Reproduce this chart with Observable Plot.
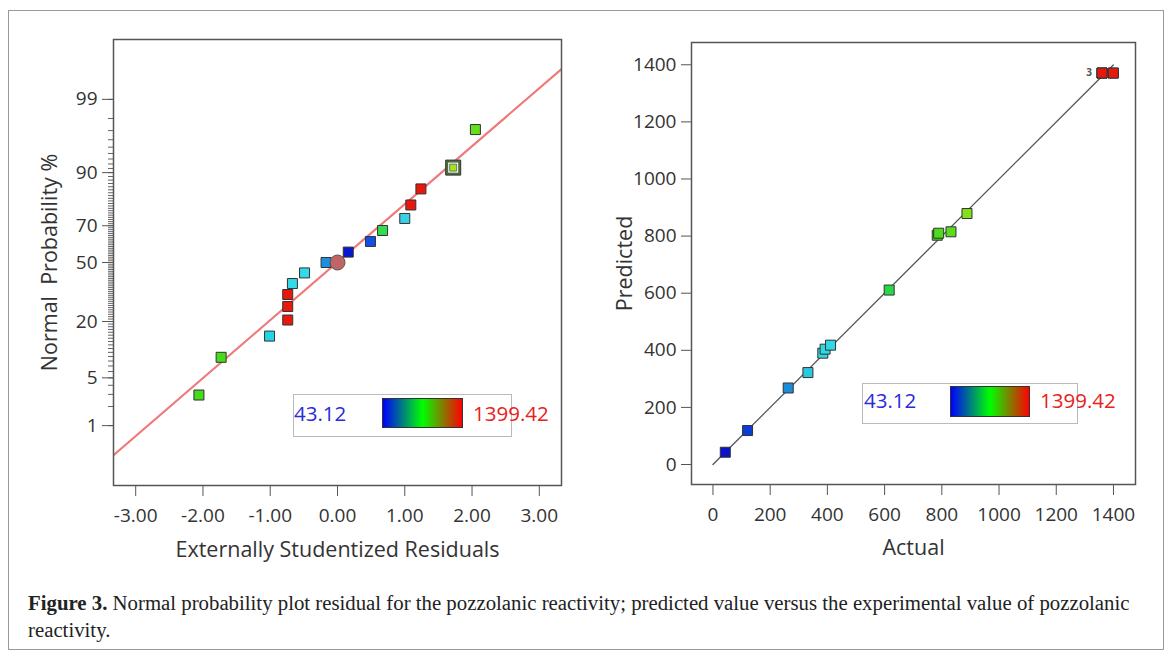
<!DOCTYPE html>
<html>
<head>
<meta charset="utf-8">
<script src="https://cdn.jsdelivr.net/npm/d3@7"></script>
<script src="https://cdn.jsdelivr.net/npm/@observablehq/plot@0.6"></script>
<style>
  body { margin: 0; background: #fff; }
  #fig { position: relative; width: 1172px; height: 657px; background: #fff; overflow: hidden; }
  .abs { position: absolute; }
  .lgbox { position: absolute; border: 1px solid #bbb; box-sizing: border-box; background: #fff; }
  .lgbar { position: absolute; border: 1px solid #333; box-sizing: border-box;
           background: linear-gradient(to right, #0000ff, #00ff00, #ff0000); }
  .lgtxt { position: absolute; font-family: 'Open Sans', sans-serif; font-size: 20.5px; white-space: nowrap; }
  #caption { position: absolute; left: 28px; top: 589px; font-family: 'Liberation Serif', serif;
             font-size: 20.8px; line-height: 27px; color: #222; white-space: nowrap; }
</style>
</head>
<body>
<div id="fig">
  <div class="abs" style="left:8px;top:10px;width:1156px;height:640px;border:1.5px solid #999;box-sizing:border-box;"></div>
  <div id="left" class="abs" style="left:0;top:0;"></div>
  <div id="right" class="abs" style="left:580px;top:0;"></div>

  <div class="lgbox" style="left:293px;top:394px;width:219px;height:43px;"></div>
  <div class="lgbar" style="left:382px;top:398px;width:81px;height:30px;"></div>
  <div class="lgtxt" id="lminL" style="left:294px;top:392px;height:43px;line-height:43px;color:#2a2ad8;"></div>
  <div class="lgtxt" id="lmaxL" style="left:473px;top:392px;height:43px;line-height:43px;color:#e82020;"></div>

  <div class="lgbox" style="left:862px;top:383px;width:216px;height:41px;"></div>
  <div class="lgbar" style="left:950px;top:386px;width:80px;height:31px;"></div>
  <div class="lgtxt" id="lminR" style="left:864px;top:380px;height:41px;line-height:41px;color:#2a2ad8;"></div>
  <div class="lgtxt" id="lmaxR" style="left:1040px;top:380px;height:41px;line-height:41px;color:#e82020;"></div>

  <div id="caption"><b>Figure 3.</b> Normal probability plot residual for the pozzolanic reactivity; predicted value versus the experimental value of pozzolanic<br>reactivity.</div>
</div>
<script>
// ---------- data: left panel (normal probability plot) ----------
const residuals = [-2.06, -1.73, -1.01, -0.74, -0.74, -0.74, -0.67, -0.49, -0.17, 0.16, 0.49, 0.67, 1.00, 1.09, 1.24, 1.72, 2.05];
const normalProb = [2.94, 8.82, 14.7, 20.6, 26.5, 32.4, 38.2, 44.1, 50.0, 55.9, 61.8, 67.6, 73.5, 79.4, 85.3, 91.2, 97.1];
const residualColors = ["#44dc1c", "#44dc1c", "#22d4e6", "#e8180c", "#e8180c", "#e8180c", "#33dae8", "#33dae8",
  "#1e8ee0", "#0818d0", "#1050e6", "#30dc50", "#3ad0e6", "#e8180c", "#e8180c", "#a0e620", "#64e01c"];
const highlightIndex = 15;
const centerResidual = [0];
const centerProb = [50];
const fitResidual = [-3.33, 3.33];
const fitProb = [0.30, 99.71];
const xTicksLeft = [-3, -2, -1, 0, 1, 2, 3];
const probTickLabels = [1, 5, 20, 50, 70, 90, 99];
const minorProbTicks = d3.range(1, 100);

// ---------- data: right panel (predicted vs actual) ----------
const actual = [43.12, 121, 263, 332, 384, 392, 411, 616, 784, 789, 832, 888, 1360, 1360, 1360, 1399.42, 1399.42];
const predicted = [43, 119, 268, 322, 390, 404, 418, 611, 803, 810, 815, 879, 1371, 1371, 1371, 1371, 1371];
const actualColors = ["#0a14c8", "#0c3cd8", "#1a8cd8", "#2ac8e0", "#30d8e6", "#30d8e6", "#30d8e6", "#28d848",
  "#4cdc1c", "#4cdc1c", "#58dc1c", "#84e01c", "#e8180c", "#e8180c", "#e8180c", "#e8180c", "#e8180c"];
const overlapLabel = {x: 1360, y: 1371, text: "3"};
const diagActual = [0, 1399.42];
const diagPredicted = [0, 1399.42];
const axisTicksRight = [0, 200, 400, 600, 800, 1000, 1200, 1400];

// legend
const legendMin = "43.12";
const legendMax = "1399.42";

// ---------- helpers ----------
function probit(p) {
  const a = [-3.969683028665376e+01, 2.209460984245205e+02, -2.759285104469687e+02, 1.383577518672690e+02, -3.066479806614716e+01, 2.506628277459239e+00];
  const b = [-5.447609879822406e+01, 1.615858368580409e+02, -1.556989798598866e+02, 6.680131188771972e+01, -1.328068155288572e+01];
  const c = [-7.784894002430293e-03, -3.223964580411365e-01, -2.400758277161838e+00, -2.549671010228898e+00, 4.374664141464968e+00, 2.938163982698783e+00];
  const d = [7.784695709041462e-03, 3.224671290700398e-01, 2.445134137142996e+00, 3.754408661907416e+00];
  const pl = 0.02425, ph = 1 - pl;
  let q, r;
  if (p < pl) {
    q = Math.sqrt(-2 * Math.log(p));
    return (((((c[0]*q+c[1])*q+c[2])*q+c[3])*q+c[4])*q+c[5]) / ((((d[0]*q+d[1])*q+d[2])*q+d[3])*q+1);
  }
  if (p <= ph) {
    q = p - 0.5; r = q * q;
    return (((((a[0]*r+a[1])*r+a[2])*r+a[3])*r+a[4])*r+a[5])*q / (((((b[0]*r+b[1])*r+b[2])*r+b[3])*r+b[4])*r+1);
  }
  q = Math.sqrt(-2 * Math.log(1 - p));
  return -(((((c[0]*q+c[1])*q+c[2])*q+c[3])*q+c[4])*q+c[5]) / ((((d[0]*q+d[1])*q+d[2])*q+d[3])*q+1);
}
const pz = p => probit(p / 100);
const SQ = s => s / Math.sqrt(Math.PI); // square side -> dot r

const leftPts = residuals.map((r, i) => ({r, p: normalProb[i], c: residualColors[i]}));
const fitLine = fitResidual.map((r, i) => ({r, p: fitProb[i]}));
const centerPt = centerResidual.map((r, i) => ({r, p: centerProb[i]}));
const hl = [leftPts[highlightIndex]];
const majorZ = probTickLabels.map(pz);
const minorZ = minorProbTicks.map(pz);

const font = {fontFamily: "'Open Sans', sans-serif", fontSize: "19px", color: "#333", background: "transparent", overflow: "visible"};
const titleOpts = {text: d => d, fontSize: 21.5, fill: "#333", textAnchor: "middle", lineAnchor: "middle"};

const left = Plot.plot({
  width: 580, height: 570,
  marginLeft: 113, marginRight: 19, marginTop: 39, marginBottom: 85,
  x: {domain: [-3.33, 3.33]},
  y: {domain: [-3.18, 3.18]},
  color: {type: "identity"},
  style: font,
  marks: [
    Plot.line(fitLine, {x: "r", y: d => pz(d.p), stroke: "#f07a7a", strokeWidth: 2.2, clip: true}),
    Plot.axisX({ticks: xTicksLeft, tickSize: 11, tickPadding: 12, tickFormat: d => d.toFixed(2), label: null, stroke: "#555"}),
    Plot.axisY({ticks: minorZ, tickSize: 5, tickFormat: () => "", label: null, stroke: "#666"}),
    Plot.axisY({ticks: majorZ, tickSize: 11, tickPadding: 5, tickFormat: z => String(probTickLabels[majorZ.indexOf(z)]), label: null, stroke: "#555"}),
    Plot.frame({stroke: "#555", strokeWidth: 1.5}),
    Plot.dot(leftPts.filter((d, i) => i !== highlightIndex), {x: "r", y: d => pz(d.p), symbol: "square", r: SQ(10), fill: "c", stroke: "#333", strokeWidth: 1}),
    Plot.dot(hl, {x: "r", y: d => pz(d.p), symbol: "square", r: SQ(15), fill: "#4f6b3e", stroke: "#333", strokeWidth: 1}),
    Plot.dot(hl, {x: "r", y: d => pz(d.p), symbol: "square", r: SQ(10), fill: "#ffffff", stroke: "none"}),
    Plot.dot(hl, {x: "r", y: d => pz(d.p), symbol: "square", r: SQ(7), fill: "c", stroke: "#555", strokeWidth: 0.8}),
    Plot.dot(centerPt, {x: "r", y: d => pz(d.p), r: 7.5, fill: "#c06565", stroke: "#555", strokeWidth: 1}),
    Plot.text(["Externally Studentized Residuals"], {frameAnchor: "bottom", dy: 64.5, ...titleOpts}),
    Plot.text(["Normal\u00a0\u00a0Probability %"], {frameAnchor: "left", dx: -63, rotate: -90, ...titleOpts})
  ]
});
document.getElementById("left").appendChild(left);

const rightPts = actual.map((a, i) => ({a, p: predicted[i], c: actualColors[i]}));
const diag = diagActual.map((a, i) => ({a, p: diagPredicted[i]}));

const right = Plot.plot({
  width: 592, height: 570,
  marginLeft: 111, marginRight: 37, marginTop: 42, marginBottom: 86,
  x: {domain: [-75, 1477]},
  y: {domain: [-70, 1478]},
  color: {type: "identity"},
  style: font,
  marks: [
    Plot.line(diag, {x: "a", y: "p", stroke: "#555", strokeWidth: 1.3}),
    Plot.axisX({ticks: axisTicksRight, tickSize: 11, tickPadding: 12, tickFormat: d => String(d), label: null, stroke: "#555"}),
    Plot.axisY({ticks: axisTicksRight, tickSize: 10, tickPadding: 5, tickFormat: d => String(d), label: null, stroke: "#555"}),
    Plot.frame({stroke: "#555", strokeWidth: 1.5}),
    Plot.dot(rightPts, {x: "a", y: "p", symbol: "square", r: SQ(10), fill: "c", stroke: "#333", strokeWidth: 1}),
    Plot.text([overlapLabel], {x: "x", y: "y", text: "text", dx: -13, fontSize: 10, fontWeight: "bold", fill: "#555"}),
    Plot.text(["Actual"], {frameAnchor: "bottom", dy: 64, ...titleOpts}),
    Plot.text(["Predicted"], {frameAnchor: "left", dx: -66, rotate: -90, ...titleOpts})
  ]
});
document.getElementById("right").appendChild(right);

document.getElementById("lminL").textContent = legendMin;
document.getElementById("lmaxL").textContent = legendMax;
document.getElementById("lminR").textContent = legendMin;
document.getElementById("lmaxR").textContent = legendMax;
</script>
</body>
</html>
